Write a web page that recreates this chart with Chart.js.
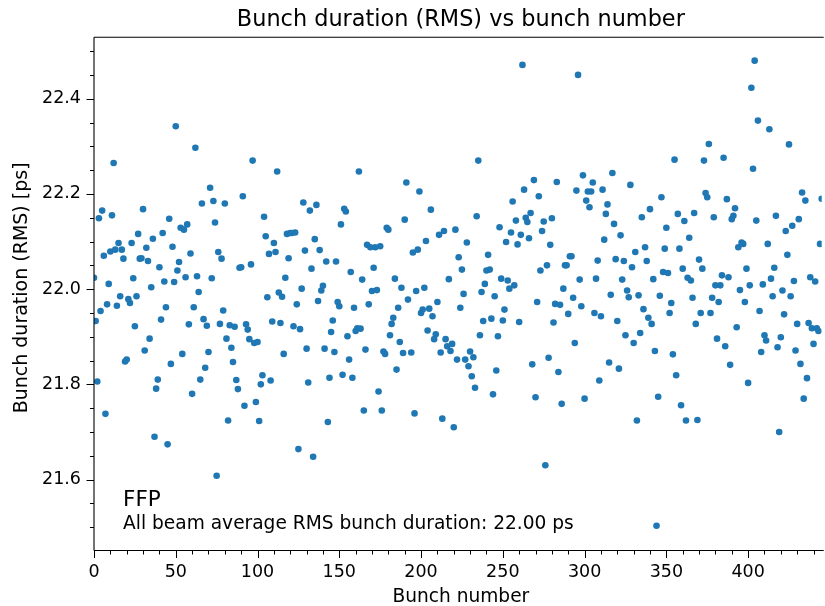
<!DOCTYPE html>
<html>
<head>
<meta charset="utf-8">
<script src="https://cdn.jsdelivr.net/npm/chart.js@4.4.1/dist/chart.umd.min.js"></script>
<style>
  html, body { margin: 0; padding: 0; background: #fff; }
  canvas { display: block; }
</style>
</head>
<body>
<canvas id="c" width="825" height="606"></canvas>
<script>
// ---- data (bunch number = index) ----
const durations = [
22.024,21.933,21.806,22.149,21.954,22.165,22.070,21.738,21.968,22.011,
22.079,22.155,22.265,22.083,21.965,22.097,21.985,22.083,22.064,21.848,
21.852,21.979,21.971,22.097,22.023,21.922,21.985,22.116,22.064,22.065,
22.168,21.871,22.087,22.059,21.896,22.004,22.106,21.690,21.791,21.810,
22.046,21.936,22.118,22.016,21.962,21.674,22.148,21.843,22.089,22.015,
22.342,22.039,22.057,22.129,21.864,22.125,22.025,22.136,21.926,22.075,
21.780,21.962,22.297,22.027,21.994,21.810,22.180,21.937,21.835,21.923,
21.868,22.213,22.023,22.185,22.140,21.608,22.078,21.927,22.064,21.955,
22.180,21.896,21.724,21.924,21.877,21.847,21.921,21.809,21.790,22.045,
22.046,22.195,21.755,21.926,21.915,21.895,22.052,22.270,21.887,21.763,
21.889,21.723,21.800,21.819,22.152,22.111,21.983,22.074,21.808,21.932,
22.097,22.078,22.247,21.993,21.929,21.984,21.864,22.024,22.116,22.065,
22.118,22.118,21.922,22.119,21.968,21.664,21.916,22.001,22.182,22.081,
21.875,21.804,22.165,22.043,21.648,22.105,22.177,21.975,22.082,21.997,
22.007,21.875,22.058,21.721,21.814,21.910,21.934,21.868,22.058,21.973,
21.964,22.136,21.820,22.169,22.163,21.901,21.852,22.036,21.814,21.961,
21.912,21.918,22.247,21.917,22.020,21.745,21.873,22.093,21.968,22.088,
21.996,22.045,22.088,21.998,21.785,22.090,21.745,21.869,21.864,22.129,
22.125,21.903,21.927,21.940,22.022,21.831,21.961,21.889,22.003,21.866,
22.146,22.224,21.978,null,21.867,22.077,21.739,21.996,22.083,22.205,
21.950,21.957,22.003,22.101,21.913,21.959,22.167,21.943,21.895,21.905,
21.973,22.114,21.867,21.728,22.122,21.895,21.880,22.021,21.870,21.885,
21.710,22.125,21.852,22.067,21.961,22.041,21.990,21.852,22.098,21.838,
21.869,21.817,21.857,21.793,22.153,22.270,21.903,21.994,21.933,22.011,
22.039,22.072,22.041,21.938,21.779,21.985,21.829,21.901,22.130,22.022,
21.934,21.957,22.099,22.018,22.001,22.119,22.184,22.008,22.144,22.094,
21.931,22.114,22.471,22.209,22.150,22.141,22.107,22.160,21.842,22.229,
21.773,21.973,22.195,22.039,22.122,22.142,21.630,22.050,21.856,22.093,
22.149,21.930,21.969,22.225,21.826,21.967,21.759,22.001,22.050,22.050,
21.948,22.069,22.069,21.982,21.887,22.207,22.450,22.020,21.964,22.239,
21.770,22.186,22.205,22.172,22.205,22.224,21.950,22.022,22.060,21.808,
21.943,22.209,22.104,22.158,22.178,21.846,21.988,22.244,22.137,22.063,
21.933,21.833,22.113,22.020,22.059,21.903,21.997,21.983,22.219,22.046,
21.887,22.078,21.724,21.987,21.908,22.151,21.958,22.088,22.059,21.940,
22.168,21.927,22.021,21.870,21.503,21.774,21.986,22.193,22.036,22.085,
22.129,22.034,21.950,21.971,21.863,22.272,21.819,22.158,22.085,21.756,
22.043,22.143,21.724,22.024,22.108,22.018,21.982,22.160,21.927,21.725,
22.062,21.950,22.043,22.270,22.202,22.193,22.305,21.950,21.982,22.151,
22.008,21.896,21.973,22.008,22.029,22.276,21.880,22.189,22.025,21.841,
22.147,22.154,22.170,21.920,22.088,21.998,22.098,22.095,21.973,22.043,
21.803,22.008,22.423,22.253,22.480,22.144,22.354,21.954,21.868,22.010,
21.903,21.892,22.095,22.336,22.022,21.985,22.045,22.154,21.878,21.700,
21.899,21.997,21.947,22.122,22.072,22.304,21.985,22.133,22.017,21.871,
21.927,22.147,21.843,22.203,21.770,22.186,21.813,21.929,22.025,21.918,
21.885,22.016,21.918,21.912,22.095,22.190
];
const xMajorTicks = [0, 50, 100, 150, 200, 250, 300, 350, 400];
const yMajorTicks = [21.6, 21.8, 22.0, 22.2, 22.4];
const xRange = [0, 445];
const yRange = [21.451, 22.529];
const titleText = 'Bunch duration (RMS) vs bunch number';
const xLabel = 'Bunch number';
const yLabel = 'Bunch duration (RMS) [ps]';
const noteLines = ['FFP', 'All beam average RMS bunch duration: 22.00 ps'];

const points = [];
durations.forEach((v, i) => { if (v !== null) points.push({x: i, y: v}); });

const FONT = '"DejaVu Sans", sans-serif';
Chart.defaults.font.family = FONT;
Chart.defaults.color = '#000';

const framePlugin = {
  id: 'frame',
  afterDraw(chart) {
    const {ctx, chartArea: a, scales: {x, y}} = chart;
    const cx = (a.left + a.right) / 2 + 3;
    ctx.save();
    ctx.strokeStyle = '#000';
    ctx.lineWidth = 1.1;
    ctx.beginPath();
    ctx.moveTo(a.left, a.top); ctx.lineTo(a.right + 2, a.top);
    ctx.moveTo(a.left, a.top); ctx.lineTo(a.left, a.bottom);
    ctx.moveTo(a.left, a.bottom); ctx.lineTo(a.right + 2, a.bottom);
    ctx.stroke();
    // ticks
    ctx.lineWidth = 1;
    ctx.beginPath();
    for (let v = 0; v <= xRange[1]; v += 10) {
      const px = Math.round(x.getPixelForValue(v)) + 0.5;
      const len = (v % 50 === 0) ? 7.5 : 4;
      ctx.moveTo(px, a.bottom); ctx.lineTo(px, a.bottom + len);
    }
    for (let k = 0; k <= 20; k++) {
      const v = 21.5 + k * 0.05;
      const py = Math.round(y.getPixelForValue(v)) + 0.5;
      const len = (k % 4 === 2) ? 7.5 : 4;
      ctx.moveTo(a.left, py); ctx.lineTo(a.left - len, py);
    }
    ctx.stroke();
    ctx.fillStyle = '#000';
    ctx.textBaseline = 'alphabetic';
    // title
    ctx.textAlign = 'center';
    ctx.font = '22.4px ' + FONT;
    ctx.fillText(titleText, cx, 26);
    // x label
    ctx.font = '18.6px ' + FONT;
    ctx.fillText(xLabel, cx, 602);
    // y label
    ctx.save();
    ctx.translate(27, (a.top + a.bottom) / 2 - 6);
    ctx.rotate(-Math.PI / 2);
    ctx.font = '19px ' + FONT;
    ctx.fillText(yLabel, 0, 0);
    ctx.restore();
    // notes
    ctx.textAlign = 'left';
    const tx = a.left + 0.04 * (a.right - a.left);
    ctx.font = '21.5px ' + FONT;
    ctx.fillText(noteLines[0], tx, a.bottom - 45);
    ctx.font = '18.6px ' + FONT;
    ctx.fillText(noteLines[1], tx, a.bottom - 22);
    ctx.restore();
  }
};

new Chart(document.getElementById('c'), {
  type: 'scatter',
  data: {
    datasets: [{
      data: points,
      backgroundColor: '#1f77b4',
      borderWidth: 0,
      pointRadius: 3.3,
      pointHoverRadius: 3.3,
      clip: 0
    }]
  },
  options: {
    responsive: false,
    animation: false,
    events: [],
    layout: { padding: { top: 37.3, left: 0, right: 0, bottom: 0 } },
    plugins: {
      legend: { display: false },
      tooltip: { enabled: false },
      title: { display: false }
    },
    scales: {
      x: {
        type: 'linear',
        min: xRange[0], max: xRange[1],
        afterBuildTicks: s => { s.ticks = xMajorTicks.map(v => ({value: v})); },
        ticks: { font: { size: 17.5 }, color: '#000', padding: 11, maxRotation: 0, autoSkip: false },
        grid: { display: false, drawTicks: false },
        border: { display: false },
        title: { display: false },
        afterFit: s => { s.height = 55.5; }
      },
      y: {
        type: 'linear',
        min: yRange[0], max: yRange[1],
        afterBuildTicks: s => { s.ticks = yMajorTicks.map(v => ({value: v})); },
        ticks: { font: { size: 17.5 }, color: '#000', padding: 13, callback: v => v.toFixed(1) },
        grid: { display: false, drawTicks: false },
        border: { display: false },
        title: { display: false },
        afterFit: s => { s.height; s.width = 94; }
      }
    }
  },
  plugins: [framePlugin]
});
</script>
</body>
</html>
